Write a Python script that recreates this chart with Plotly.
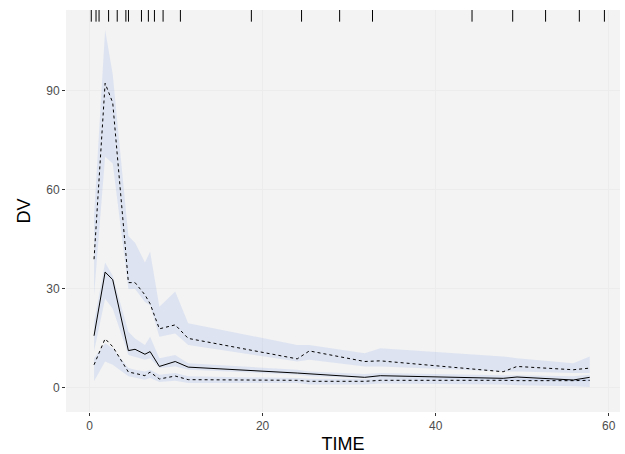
import plotly.graph_objects as go

# bin times (line vertices)
time = [0.52, 1.8, 2.68, 4.49, 5.26, 6.4, 7.0, 8.07, 9.9, 11.4,
        24.0, 25.4, 31.8, 33.6, 47.8, 49.4, 55.9, 57.8]

# observed percentiles
obs_p95 = [39.0, 92.3, 86.4, 31.9, 31.9, 28.2, 25.5, 17.9, 19.1, 15.0,
           8.8, 11.2, 8.0, 8.2, 4.9, 6.5, 5.5, 6.0]
obs_p50 = [15.8, 35.1, 32.8, 11.3, 11.7, 10.2, 11.0, 6.5, 8.0, 6.3,
           4.5, 4.3, 3.2, 3.7, 2.9, 3.3, 2.4, 3.2]
obs_p05 = [7.0, 14.9, 12.5, 4.8, 4.4, 3.7, 4.8, 2.7, 3.6, 2.5,
           2.3, 2.0, 2.0, 2.3, 2.3, 2.2, 2.2, 2.3]

# simulated CI bands (low/high) for each percentile
p95_lo = [28.0, 70.0, 68.0, 30.0, 30.0, 26.0, 25.0, 15.5, 16.5, 13.0,
          8.0, 8.5, 6.5, 6.5, 5.0, 5.0, 4.5, 4.5]
p95_hi = [52.0, 108.5, 95.0, 46.0, 44.0, 38.0, 41.3, 24.6, 29.2, 19.6,
          13.0, 13.0, 10.5, 12.0, 9.5, 9.0, 7.5, 9.5]
p50_lo = [11.0, 27.0, 24.0, 10.0, 9.5, 8.5, 9.0, 6.0, 6.5, 5.5,
          4.0, 3.5, 3.0, 3.0, 2.5, 2.5, 2.0, 2.0]
p50_hi = [20.0, 38.0, 34.0, 17.0, 15.0, 13.0, 15.5, 9.0, 10.0, 7.5,
          5.5, 5.0, 4.2, 4.5, 3.8, 3.8, 3.5, 4.0]
p05_lo = [2.0, 8.0, 7.0, 3.5, 3.0, 2.5, 3.0, 1.8, 2.2, 1.5,
          1.5, 1.0, 1.0, 1.3, 1.0, 0.8, 0.5, 0.3]
p05_hi = [9.0, 13.5, 12.0, 6.0, 5.5, 5.0, 5.5, 4.0, 4.5, 3.5,
          3.0, 2.8, 2.8, 3.0, 2.8, 2.8, 2.5, 2.8]

# bin separators (rug at top)
bin_edges = [0.2, 0.75, 1.1, 2.2, 3.2, 4.2, 4.5, 6.0, 6.8, 7.5, 8.5, 10.5,
             18.7, 24.5, 28.9, 32.7, 44.2, 48.9, 52.7, 56.6, 59.5]

x_ticks = [0, 20, 40, 60]
y_ticks = [0, 30, 60, 90]

band_fill = "rgba(100,140,230,0.15)"

fig = go.Figure()
for lo, hi in [(p95_lo, p95_hi), (p50_lo, p50_hi), (p05_lo, p05_hi)]:
    fig.add_trace(go.Scatter(x=time + time[::-1], y=hi + lo[::-1],
                             fill="toself", fillcolor=band_fill,
                             line=dict(width=0), mode="lines",
                             hoverinfo="skip", showlegend=False))

fig.add_trace(go.Scatter(x=time, y=obs_p95, mode="lines",
                         line=dict(color="black", width=1, dash="dot"),
                         showlegend=False))
fig.add_trace(go.Scatter(x=time, y=obs_p50, mode="lines",
                         line=dict(color="black", width=1),
                         showlegend=False))
fig.add_trace(go.Scatter(x=time, y=obs_p05, mode="lines",
                         line=dict(color="black", width=1, dash="dot"),
                         showlegend=False))

for b in bin_edges:
    fig.add_shape(type="line", xref="x", yref="paper", x0=b, x1=b,
                  y0=0.971, y1=1.0, line=dict(color="black", width=1))

axis_common = dict(showgrid=True, gridcolor="#ececec", gridwidth=0.5,
                   zeroline=False, ticks="outside", ticklen=3,
                   tickcolor="#333333", showline=False, automargin=False,
                   tickfont=dict(family="Liberation Sans", size=12, color="#4d4d4d"))

fig.update_layout(
    width=625, height=454,
    margin=dict(l=66, r=5, t=10, b=42),
    paper_bgcolor="white",
    plot_bgcolor="#f3f3f3",
    xaxis=dict(range=[-2.72, 61.3], tickvals=x_ticks,
               title=dict(text="TIME", font=dict(family="Liberation Sans", size=18, color="black"), standoff=4),
               **axis_common),
    yaxis=dict(range=[-7.3, 114.5], tickvals=y_ticks,
               title=dict(text="DV", font=dict(family="Liberation Sans", size=18, color="black"), standoff=10),
               **axis_common),
)

fig.write_html("out.html")
